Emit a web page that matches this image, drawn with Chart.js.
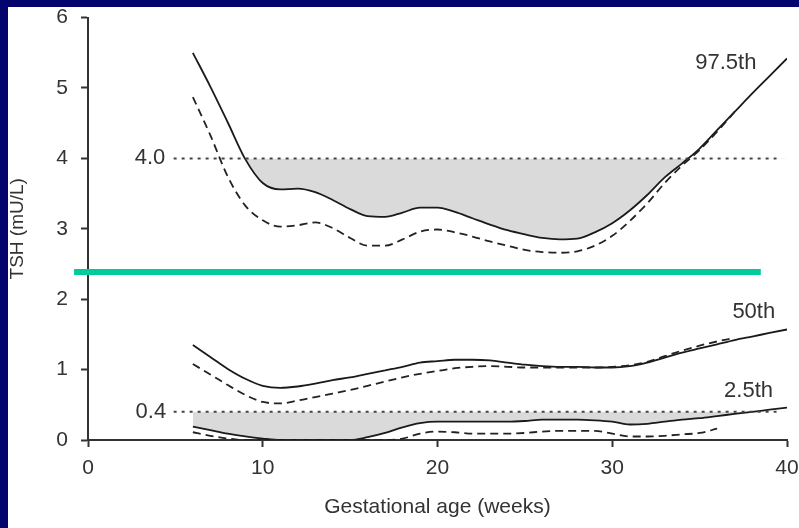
<!DOCTYPE html>
<html>
<head>
<meta charset="utf-8">
<script src="https://cdn.jsdelivr.net/npm/chart.js@4.4.0/dist/chart.umd.min.js"></script>
<style>
  html, body { margin: 0; padding: 0; background: #04046c; }
  canvas { display: block; }
</style>
</head>
<body>
<canvas id="chart" width="799" height="528"></canvas>
<script>
// gestational week of each reading
const weeks = [6,7,8,9,10,11,12,13,14,15,16,17,18,19,20,21,22,23,24,25,26,27,28,29,30,31,32,33,34,35,36,37,38,39,40];

// TSH (mU/L), solid = one cohort, dashed = the other
const p975Solid  = [5.50,5.02,4.51,3.99,3.65,3.56,3.57,3.52,3.41,3.28,3.18,3.17,3.23,3.30,3.30,3.24,3.15,3.06,2.98,2.92,2.87,2.85,2.86,2.95,3.08,3.26,3.48,3.73,3.93,4.14,4.40,4.66,4.92,5.17,5.42];
const p975Dashed = [4.87,4.33,3.74,3.33,3.12,3.03,3.05,3.09,3.01,2.87,2.76,2.76,2.85,2.96,2.99,2.95,2.89,2.82,2.76,2.70,2.67,2.66,2.68,2.76,2.90,3.11,3.36,3.65,3.90,4.12,4.38,4.66,null,null,null];
const p50Solid   = [1.35,1.18,1.01,0.87,0.77,0.74,0.76,0.80,0.85,0.89,0.94,0.99,1.04,1.10,1.12,1.14,1.14,1.13,1.10,1.07,1.05,1.04,1.04,1.03,1.03,1.05,1.10,1.17,1.24,1.30,1.36,1.42,1.47,1.52,1.57];
const p50Dashed  = [1.08,0.93,0.78,0.64,0.54,0.52,0.56,0.61,0.66,0.71,0.77,0.83,0.89,0.94,0.98,1.02,1.04,1.05,1.04,1.03,1.03,1.03,1.03,1.03,1.04,1.06,1.11,1.19,1.27,1.34,1.40,1.45,null,null,null];
const p25Solid   = [0.19,0.14,0.09,0.05,0.02,0,0,0,0,0,0.04,0.10,0.18,0.24,0.26,0.26,0.26,0.26,0.26,0.27,0.29,0.29,0.29,0.28,0.26,0.22,0.23,0.26,0.29,0.31,0.34,0.37,0.40,0.43,0.46];
const p25Dashed  = [0.11,0.06,0.02,0,0,0,0,0,0,0,0,0,0.02,0.09,0.12,0.11,0.09,0.09,0.09,0.10,0.12,0.13,0.13,0.13,0.09,0.05,0.05,0.06,0.08,0.10,0.16,null,null,null,null];

// reference limits (dotted lines)
const limits = [4.0, 0.4];
const limitSpan = [4.9, 39.4];

const xTicks = [0, 10, 20, 30, 40];
const yTicks = [0, 1, 2, 3, 4, 5, 6];

const curveLabels = [
  { text: '97.5th', x: 36.5, y: 5.36 },
  { text: '50th', x: 38.1, y: 1.82 },
  { text: '2.5th', x: 37.8, y: 0.70 },
  { text: '4.0', x: 3.55, y: 4.0 },
  { text: '0.4', x: 3.6, y: 0.40 }
];

const FONT = '"Liberation Sans", Arial, sans-serif';
const INK = '#333';
const SHADE = '#dadada';

const pts = arr => weeks.map((w, i) => ({ x: w, y: arr[i] }));

const solid = (arr, fillTo) => ({
  data: pts(arr),
  borderColor: '#1a1a1a',
  borderWidth: 1.8,
  pointRadius: 0,
  cubicInterpolationMode: 'monotone',
  fill: fillTo === undefined ? false : { target: { value: fillTo }, above: 'rgba(0,0,0,0)', below: SHADE }
});
const dashed = arr => ({
  data: pts(arr),
  borderColor: '#222',
  borderWidth: 1.8,
  borderDash: [8, 5],
  pointRadius: 0,
  cubicInterpolationMode: 'monotone',
  fill: false
});
const dotted = v => ({
  data: [{ x: limitSpan[0], y: v }, { x: limitSpan[1], y: v }],
  borderColor: '#444',
  borderWidth: 2,
  borderDash: [3, 5],
  pointRadius: 0,
  fill: false
});

const frame = {
  id: 'frame',
  beforeDraw(chart) {
    const { ctx, width, height } = chart;
    ctx.save();
    ctx.fillStyle = '#04046c';
    ctx.fillRect(0, 0, width, height);
    ctx.fillStyle = '#fff';
    ctx.fillRect(8, 7, width - 8, height - 7);
    ctx.restore();
  },
  afterDraw(chart) {
    const { ctx, scales: { x, y } } = chart;
    ctx.save();
    ctx.fillStyle = INK;
    ctx.font = '22px ' + FONT;
    ctx.textAlign = 'center';
    ctx.textBaseline = 'middle';
    curveLabels.forEach(l => ctx.fillText(l.text, x.getPixelForValue(l.x), y.getPixelForValue(l.y)));
    // green highlight bar laid over the slide
    ctx.strokeStyle = '#00cc99';
    ctx.lineWidth = 6;
    ctx.beginPath();
    ctx.moveTo(x.getPixelForValue(-0.8), y.getPixelForValue(2.386));
    ctx.lineTo(x.getPixelForValue(38.5), y.getPixelForValue(2.386));
    ctx.stroke();
    ctx.restore();
  }
};

// keep the plot box fixed: no extra room reserved for end labels
const noEdgePad = s => { s.paddingTop = 0; s.paddingBottom = 0; s.paddingLeft = 0; s.paddingRight = 0; };

new Chart(document.getElementById('chart'), {
  type: 'line',
  data: {
    datasets: [
      dotted(limits[0]),
      dotted(limits[1]),
      dashed(p975Dashed),
      dashed(p50Dashed),
      dashed(p25Dashed),
      solid(p975Solid, limits[0]),
      solid(p50Solid),
      solid(p25Solid, limits[1])
    ]
  },
  options: {
    responsive: false,
    animation: false,
    layout: { padding: { top: 17.6, right: 12, left: 0, bottom: 0 } },
    plugins: {
      legend: { display: false },
      tooltip: { enabled: false },
      filler: { drawTime: 'beforeDatasetsDraw' }
    },
    scales: {
      x: {
        type: 'linear', min: 0, max: 40,
        afterBuildTicks: s => { s.ticks = xTicks.map(v => ({ value: v })); },
        afterFit: s => { s.height = 88; noEdgePad(s); },
        ticks: { color: INK, font: { size: 21, family: FONT }, padding: 9, maxRotation: 0 },
        grid: { drawOnChartArea: false, drawTicks: true, tickLength: 7, tickColor: INK, tickWidth: 2 },
        border: { display: true, color: INK, width: 2 },
        title: { display: true, text: 'Gestational age (weeks)', color: INK, font: { size: 21, family: FONT }, padding: { top: 0, bottom: 8 } }
      },
      y: {
        type: 'linear', min: 0, max: 6,
        afterBuildTicks: s => { s.ticks = yTicks.map(v => ({ value: v })); },
        afterFit: s => { s.width = 88; noEdgePad(s); },
        ticks: { color: INK, font: { size: 21, family: FONT }, padding: 13 },
        grid: { drawOnChartArea: false, drawTicks: true, tickLength: 7, tickColor: INK, tickWidth: 2 },
        border: { display: true, color: INK, width: 2 },
        title: { display: true, text: 'TSH (mU/L)', color: INK, font: { size: 19, family: FONT }, padding: { top: 6, bottom: 0 } }
      }
    }
  },
  plugins: [frame]
});
</script>
</body>
</html>
